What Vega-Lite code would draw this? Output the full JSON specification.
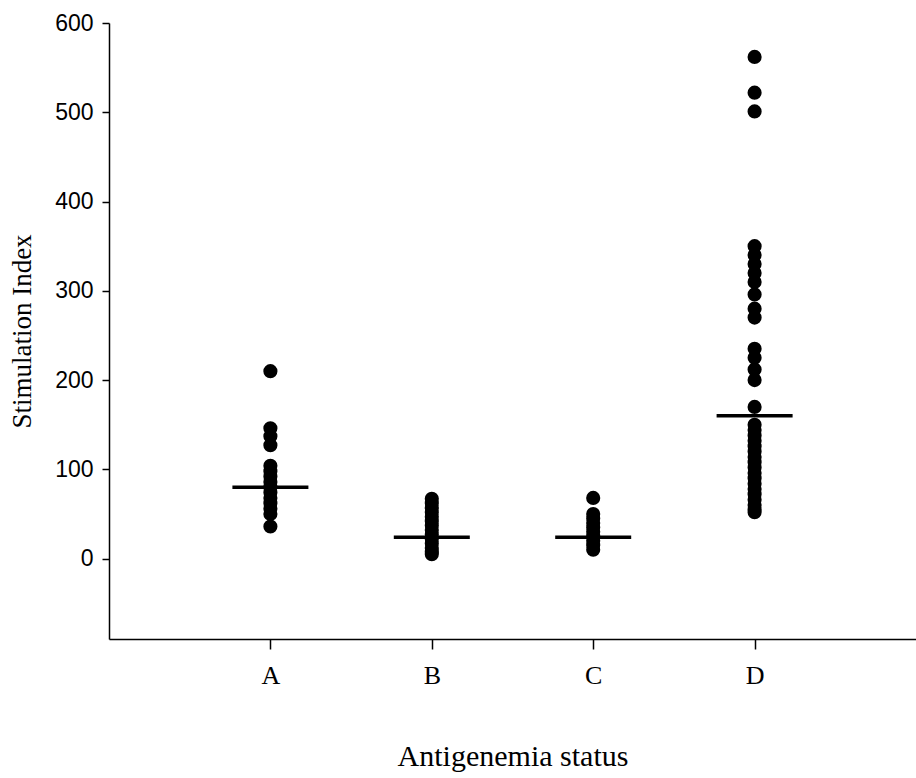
{
  "$schema": "https://vega.github.io/schema/vega-lite/v6.json",
  "autosize": "none",
  "width": 807,
  "height": 616,
  "padding": {"left": 109, "top": 23, "right": 0, "bottom": 139},
  "background": "white",
  "config": {
    "view": {"stroke": null},
    "axis": {"grid": false, "domainColor": "black", "domainWidth": 1.5, "tickColor": "black", "tickWidth": 1.5, "labelColor": "black", "titleColor": "black", "titleFontWeight": "normal"}
  },
  "datasets": {
    "points": [
      {"status": "A", "si": 210}, {"status": "A", "si": 146}, {"status": "A", "si": 137}, {"status": "A", "si": 127},
      {"status": "A", "si": 104}, {"status": "A", "si": 98}, {"status": "A", "si": 92},
      {"status": "A", "si": 86}, {"status": "A", "si": 80}, {"status": "A", "si": 74}, {"status": "A", "si": 68},
      {"status": "A", "si": 62}, {"status": "A", "si": 56}, {"status": "A", "si": 50}, {"status": "A", "si": 36},
      {"status": "B", "si": 67}, {"status": "B", "si": 62}, {"status": "B", "si": 57}, {"status": "B", "si": 52},
      {"status": "B", "si": 47}, {"status": "B", "si": 42}, {"status": "B", "si": 37}, {"status": "B", "si": 32},
      {"status": "B", "si": 27}, {"status": "B", "si": 22}, {"status": "B", "si": 17}, {"status": "B", "si": 12},
      {"status": "B", "si": 8}, {"status": "B", "si": 5},
      {"status": "C", "si": 68}, {"status": "C", "si": 50}, {"status": "C", "si": 45}, {"status": "C", "si": 40},
      {"status": "C", "si": 35}, {"status": "C", "si": 30}, {"status": "C", "si": 25}, {"status": "C", "si": 20},
      {"status": "C", "si": 15}, {"status": "C", "si": 10},
      {"status": "D", "si": 562}, {"status": "D", "si": 522}, {"status": "D", "si": 501},
      {"status": "D", "si": 350}, {"status": "D", "si": 340}, {"status": "D", "si": 330}, {"status": "D", "si": 320},
      {"status": "D", "si": 310}, {"status": "D", "si": 296}, {"status": "D", "si": 280}, {"status": "D", "si": 270},
      {"status": "D", "si": 235}, {"status": "D", "si": 225}, {"status": "D", "si": 212}, {"status": "D", "si": 200},
      {"status": "D", "si": 170}, {"status": "D", "si": 150}, {"status": "D", "si": 144}, {"status": "D", "si": 138},
      {"status": "D", "si": 132}, {"status": "D", "si": 126}, {"status": "D", "si": 120}, {"status": "D", "si": 114},
      {"status": "D", "si": 108}, {"status": "D", "si": 102}, {"status": "D", "si": 96}, {"status": "D", "si": 90},
      {"status": "D", "si": 84}, {"status": "D", "si": 78}, {"status": "D", "si": 72}, {"status": "D", "si": 66},
      {"status": "D", "si": 60}, {"status": "D", "si": 55}, {"status": "D", "si": 52}
    ],
    "means": [
      {"status": "A", "mean": 80}, {"status": "B", "mean": 24}, {"status": "C", "mean": 24}, {"status": "D", "mean": 160}
    ]
  },
  "layer": [
    {
      "data": {"name": "points"},
      "mark": {"type": "point", "shape": "circle", "filled": true, "color": "black", "opacity": 1, "size": 200},
      "encoding": {
        "x": {
          "field": "status", "type": "nominal",
          "scale": {"type": "point", "domain": ["A", "B", "C", "D"], "padding": 1},
          "axis": {"title": "Antigenemia status", "labelAngle": 0, "labelFont": "Liberation Serif", "labelFontSize": 26, "labelPadding": 13, "tickSize": 10,
                   "titleFont": "Liberation Serif", "titleFontSize": 30, "titlePadding": 53}
        },
        "y": {
          "field": "si", "type": "quantitative",
          "scale": {"domain": [-90, 600], "nice": false, "zero": false},
          "axis": {"title": "Stimulation Index", "values": [0, 100, 200, 300, 400, 500, 600], "labelFont": "Liberation Sans", "labelFontSize": 23, "labelPadding": 9, "tickSize": 7,
                   "titleFont": "Liberation Serif", "titleFontSize": 27, "titlePadding": 18}
        }
      }
    },
    {
      "data": {"name": "means"},
      "mark": {"type": "tick", "color": "black", "size": 76, "thickness": 3.5, "opacity": 1},
      "encoding": {
        "x": {"field": "status", "type": "nominal"},
        "y": {"field": "mean", "type": "quantitative"}
      }
    }
  ]
}
